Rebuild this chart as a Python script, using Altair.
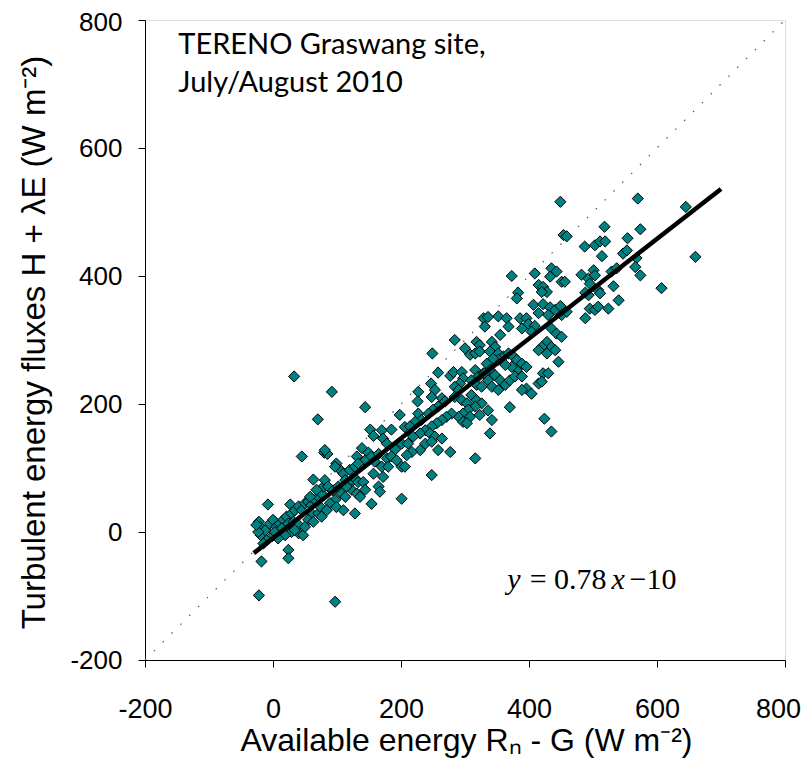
import altair as alt
import pandas as pd

# Scatter values (W m-2)
avail_x = [
    33, 70, 45, 63, 80, -8, 27, -22, -19, 24, 24, -18, -22,
    -20, -12, -5, 0, 5, 11, 16, 21, 29, 34, 40, 45, 50, 55, 60, 66, 71, 76, 60, 71, 76,
    40, 47, 29, 19, 8, -2, -10, -15, -23, -26, 3, 14, 24, 32, 40, 55, 63, 73, 79, 68, 58, 50, 34,
    92, 144, 198, 152, 157, 170, 172, 185, 178, 191, 201, 85, 81, 139, 149, 131, 144, 154, 165,
    99, 105, 97, 110, 120, 128, 133, 159, 170, 178, 185, 193, 201, 180, 172, 157, 165, 167,
    113, 120, 128, 133, 141, 123, 131, 136, 144, 81, 86, 94, 102, 107, 113, 97, 89, 84, 99, 110,
    115, 154, 128, 201, 97, 206,
    329, 284, 318, 323, 300, 308, 316, 323, 249, 258, 277, 282, 295, 297, 292, 284, 290,
    316, 321, 329, 310, 318, 326, 247, 253, 227, 226, 248, 264, 269, 258, 250, 243,
    284, 295, 303, 310, 318, 326, 316, 305, 297, 290, 279, 271, 264, 256, 248, 308, 323, 297, 303,
    227, 232, 222, 214, 238, 230, 219, 211, 245, 253, 264, 258, 238, 230, 217, 209, 248, 277, 316, 248, 206,
    449, 454, 373, 409, 435, 443, 451, 433, 415, 422, 428, 420, 383, 381, 352, 365, 368,
    407, 415, 422, 433, 441, 449, 430, 451, 386, 396, 399, 409, 389, 404,
    435, 443, 451, 428, 435, 420, 441, 428, 415, 446, 422, 430, 415, 420, 336, 331,
    355, 342, 347, 339, 352, 360, 368, 376, 381, 389, 396, 381, 373, 363, 352, 344, 334, 339, 347, 355,
    331, 336, 342, 352, 363, 370, 378, 389, 396, 389, 404, 336, 342, 370, 339, 424, 435,
    570, 518, 574, 459, 554, 487, 503, 511, 519, 514, 547, 553, 568, 566, 574, 482, 493, 501, 503, 495,
    529, 537, 532, 488, 493, 508, 511, 540, 495, 503, 508, 524, 488, 459, 456,
    645, 660, 607,
]
turb_y = [
    243, 176, 118, 82, 124, 43, 43, 16, -5, -28, -41, -46, -99,
    8, 3, 13, 19, 8, 13, 19, 24, 29, 34, 40, 34, 45, 47, 42, 50, 55, 60, 29, 29, 24,
    -2, -5, 0, -5, -10, -7, -13, -18, 0, 11, 0, 6, 13, 16, 11, 19, 16, 40, 71, 66, 55, 8, 3,
    219, 195, 183, 160, 150, 159, 146, 160, 138, 129, 138, 122, 128, 131, 124, 118, 112, 118, 122,
    107, 97, 102, 91, 97, 102, 107, 110, 102, 115, 118, 112, 102, 102, 86, 91, 71, 63,
    81, 76, 84, 78, 78, 66, 60, 55, 66, 81, 71, 65, 71, 60, 55, 50, 45, 34, 39, 34,
    71, 44, 29, 52, -109, 164,
    334, 300, 297, 292, 287, 277, 279, 282, 279, 249, 244, 250, 250, 240, 232, 227, 222,
    253, 243, 248, 237, 230, 227, 232, 222, 219, 204, 211, 209, 204, 196, 191, 185,
    211, 206, 201, 214, 206, 201, 196, 191, 185, 180, 185, 180, 175, 170, 165, 180, 183, 172, 170,
    185, 175, 172, 165, 159, 154, 149, 138, 154, 149, 146, 128, 138, 128, 125, 120, 141, 125, 115, 89, 102,
    516, 464, 400, 404, 412, 407, 391, 399, 386, 383, 375, 375, 374, 365, 337, 334, 321,
    355, 342, 356, 351, 347, 353, 339, 339, 334, 334, 325, 322, 318, 313,
    318, 310, 305, 297, 289, 289, 284, 279, 284, 266, 248, 248, 232, 235, 336, 321,
    308, 297, 289, 282, 279, 274, 279, 274, 269, 263, 258, 253, 258, 261, 269, 271, 263, 253, 245, 237,
    248, 237, 227, 222, 230, 237, 243, 243, 224, 222, 216, 190, 175, 195, 154, 177, 157,
    521, 477, 473, 462, 459, 446, 448, 454, 454, 431, 435, 440, 428, 414, 401, 402, 396, 409, 401, 388,
    407, 412, 384, 374, 370, 378, 373, 362, 349, 347, 352, 349, 334, 344, 391,
    508, 430, 381,
]

# Regression line end points and 1:1 line end points
fit_x = [-30, 700]
fit_y = [-33, 536]
one_x = [-200, 800]
one_y = [-200, 800]

x_ticks = [-200, 0, 200, 400, 600, 800]
y_ticks = [-200, 0, 200, 400, 600, 800]

pts = pd.DataFrame({"x": avail_x, "y": turb_y})
fit = pd.DataFrame({"x": fit_x, "y": fit_y})
one = pd.DataFrame({"x": one_x, "y": one_y})

xscale = alt.Scale(domain=[-200, 800], nice=False, zero=False)
yscale = alt.Scale(domain=[-200, 800], nice=False, zero=False)

hyphen = "replace(datum.label, '\u2212', '-')"

xaxis = alt.Axis(
    values=x_ticks, grid=False, tickSize=7, tickColor="black", domainColor="black",
    labelFont="Liberation Sans", labelFontSize=27, labelColor="black",
    labelBaseline="alphabetic", labelPadding=50, labelExpr=hyphen,
    labelFlush=False, labelOverlap=False,
    labelOffset={"condition": {"test": "datum.value == 800", "value": -7}, "value": 0},
    title="Available energy Rₙ - G (W m⁻²)", titleFont="Liberation Sans",
    titleFontSize=32, titleFontWeight="normal", titleColor="black",
    titleX=321, titleY=90, titleAlign="center", titleBaseline="alphabetic",
)
yaxis = alt.Axis(
    values=y_ticks, grid=False, tickSize=7, tickColor="black", domainColor="black",
    labelFont="Liberation Sans", labelFontSize=26, labelColor="black",
    labelPadding=16, labelExpr=hyphen, labelFlush=False, labelOverlap=False,
    labelOffset={"condition": {"test": "datum.value == 800", "value": 2}, "value": 0},
    title="Turbulent energy fluxes H + λE (W m⁻²)", titleFont="Liberation Sans",
    titleFontSize=33, titleFontWeight="normal", titleColor="black",
    titleX=-101, titleY=322, titleAngle=270, titleAlign="center",
    titleBaseline="alphabetic",
)

oneline = alt.Chart(one).mark_line(
    color="#555555", strokeWidth=1.2, strokeDash=[1.5, 11], clip=True
).encode(
    x=alt.X("x:Q", scale=xscale, axis=xaxis),
    y=alt.Y("y:Q", scale=yscale, axis=yaxis),
)

points = alt.Chart(pts).mark_point(
    shape="diamond", filled=True, size=125, fill="#008080", stroke="black",
    strokeWidth=1, opacity=1
).encode(x="x:Q", y="y:Q")

fitline = alt.Chart(fit).mark_line(color="black", strokeWidth=4.5).encode(
    x="x:Q", y="y:Q"
)

def label(txt, xv, yv, font, size, style="normal"):
    return alt.Chart(pd.DataFrame({"t": [txt]})).mark_text(
        font=font, fontSize=size, fontStyle=style, align="left",
        baseline="alphabetic", color="black"
    ).encode(x=alt.datum(xv), y=alt.datum(yv), text="t:N")

site1 = label("TERENO Graswang site,", -148, 747, "Lato", 29)
site2 = label("July/August 2010", -148, 688, "Lato", 29)

eq_y = -89
eq1 = label("y", 366, eq_y, "Liberation Serif", 30, "italic")
eq2 = label("= 0.78", 401, eq_y, "Liberation Serif", 30)
eq3 = label("x", 529, eq_y, "Liberation Serif", 30, "italic")
eq4 = label("−10", 557, eq_y, "Liberation Serif", 30)

chart = alt.layer(
    oneline, points, fitline, site1, site2, eq1, eq2, eq3, eq4
).properties(
    width=640, height=640,
    autosize=alt.AutoSizeParams(type="none"),
    padding={"left": 137, "top": 12, "right": 18, "bottom": 99},
).configure_view(stroke="black", strokeWidth=1).configure(background="white")

chart.save("out.html", embed_options={"renderer": "svg", "actions": False})
